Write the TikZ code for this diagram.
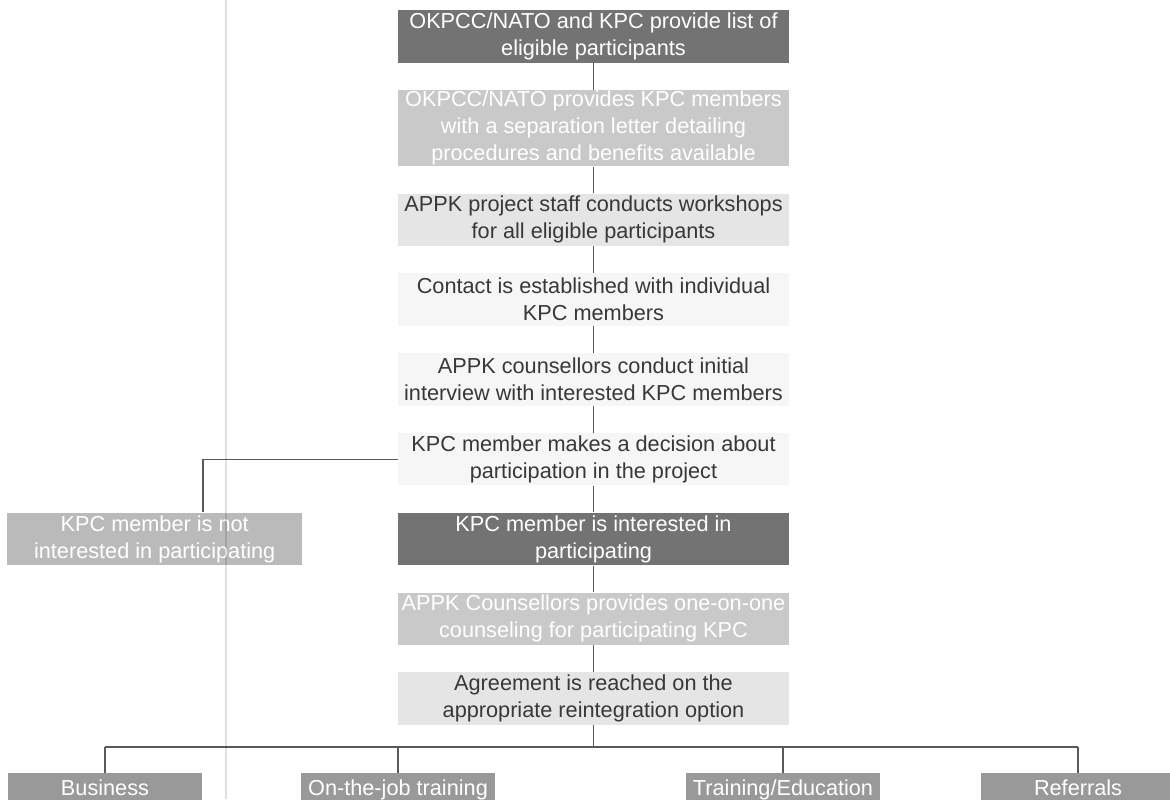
\documentclass[tikz,border=0pt]{standalone}
\usepackage{fontspec}
\setmainfont{Liberation Sans}
\usepackage{tikz}
\usetikzlibrary{positioning}

\definecolor{boxdark}{gray}{0.45}
\definecolor{boxmid}{gray}{0.6}
\definecolor{boxgrey}{gray}{0.73}
\definecolor{boxlight}{gray}{0.79}
\definecolor{boxpale}{gray}{0.9}
\definecolor{boxfaint}{gray}{0.965}
\definecolor{inkdark}{gray}{0.22}
\definecolor{linkgrey}{gray}{0.35}

\tikzset{
  stage/.style={align=center, minimum width=195.5pt, minimum height=26.25pt,
    inner xsep=2pt, inner ysep=0.5pt, font=\fontsize{10.85}{13.5}\selectfont},
  darkstage/.style={stage, fill=boxdark, text=white},
  lightstage/.style={stage, fill=boxlight, text=white},
  palestage/.style={stage, fill=boxpale, text=inkdark},
  faintstage/.style={stage, fill=boxfaint, text=inkdark},
  option/.style={stage, minimum width=97pt, minimum height=16pt, inner ysep=3pt,
    text height=8pt, text depth=2.5pt, fill=boxmid, text=white, anchor=north},
  link/.style={draw=linkgrey, line width=0.6pt},
}

\begin{document}
\begin{tikzpicture}[x=0.5pt, y=-0.5pt, node distance=13.25pt]
    \clip (0,0) rectangle (1170,799);
    \fill[white] (0,0) rectangle (1170,799);

    % main column
    \node[darkstage] (lists) at (593.5,36.5) {OKPCC/NATO and KPC provide list of\\eligible participants};
    \node[lightstage, below=of lists] (letter) {OKPCC/NATO provides KPC members\\with a separation letter detailing\\procedures and benefits available};
    \node[palestage, below=of letter] (workshop) {APPK project staff conducts workshops\\for all eligible participants};
    \node[faintstage, below=of workshop] (contact) {Contact is established with individual\\KPC members};
    \node[faintstage, below=of contact] (interview) {APPK counsellors conduct initial\\interview with interested KPC members};
    \node[faintstage, below=of interview] (decide) {KPC member makes a decision about\\participation in the project};
    \node[darkstage, below=of decide] (yes) {KPC member is interested in\\participating};
    \node[stage, fill=boxgrey, text=white, minimum width=147.5pt, left=47.5pt of yes] (no) {KPC member is not\\interested in participating};
    \node[lightstage, below=of yes] (counsel) {APPK Counsellors provides one-on-one\\counseling for participating KPC};
    \node[palestage, below=of counsel] (agree) {Agreement is reached on the\\appropriate reintegration option};

    % options
    \node[option] (business) at (105,773) {Business};
    \node[option] (jobtrain) at (398,773) {On-the-job training};
    \node[option] (educate) at (783,773) {Training/Education};
    \node[option] (referral) at (1078,773) {Referrals};

    \draw[link] (lists) -- (letter);
    \draw[link] (letter) -- (workshop);
    \draw[link] (workshop) -- (contact);
    \draw[link] (contact) -- (interview);
    \draw[link] (interview) -- (decide);
    \draw[link] (decide) -- (yes);
    \draw[link] (yes) -- (counsel);
    \draw[link] (counsel) -- (agree);

    \coordinate (nobend) at (203,0);
    \draw[link] (decide.west) -| (nobend |- no.north);

    \coordinate (fork) at (592,747);
    \draw[link] (agree.south) -- (agree.south |- fork);
    \draw[link] (business.north |- fork) -- (referral.north |- fork);
    \foreach \opt in {business,jobtrain,educate,referral}
        \draw[link] (\opt.north) -- (\opt.north |- fork);

    % fold of the page
    \draw[black, opacity=0.12, line width=0.8pt] (226,0) -- (226,799);
\end{tikzpicture}
\end{document}
